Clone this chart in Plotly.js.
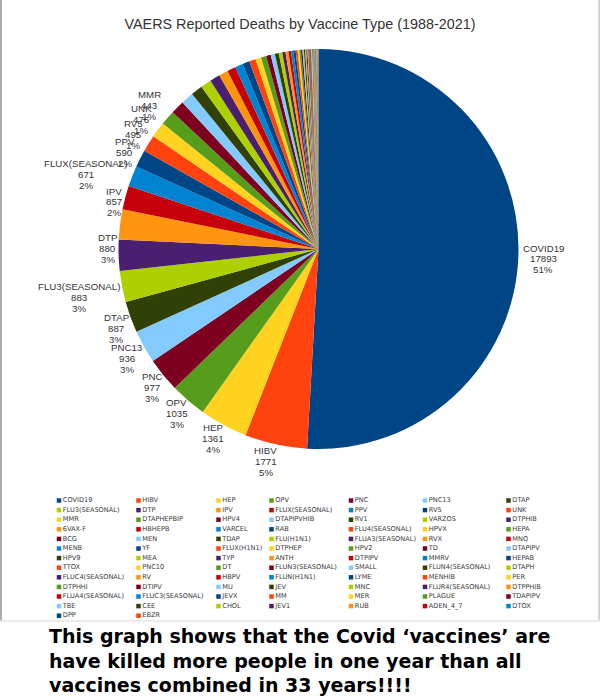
<!DOCTYPE html>
<html><head><meta charset="utf-8">
<script src="https://cdn.plot.ly/plotly-3.0.1.min.js"></script>
<style>html,body{margin:0;padding:0;background:#fff;} #chart{width:600px;height:696px;}</style>
</head><body><div id="chart"></div>
<script>
const vaccines = ['COVID19','HIBV','HEP','OPV','PNC','PNC13','DTAP',
 'FLU3(SEASONAL)','DTP','IPV','FLUX(SEASONAL)','PPV','RV5','UNK',
 'MMR','DTAPHEPBIP','HPV4','DTAPIPVHIB','RV1','VARZOS','DTPHIB',
 '6VAX-F','HBHEPB','VARCEL','RAB','FLU4(SEASONAL)','HPVX','HEPA',
 'BCG','MEN','TDAP','FLU(H1N1)','FLUA3(SEASONAL)','RVX','MNQ',
 'MENB','YF','FLUX(H1N1)','DTPHEP','HPV2','TD','DTAPIPV',
 'HPV9','MEA','TYP','ANTH','DTPIPV','MMRV','HEPAB',
 'TTOX','PNC10','DT','FLUN3(SEASONAL)','SMALL','FLUN4(SEASONAL)','DTAPH',
 'FLUC4(SEASONAL)','RV','HBPV','FLUN(H1N1)','LYME','MENHIB','PER',
 'DTPHHI','DTIPV','MU','JEV','MNC','FLUR4(SEASONAL)','DTPPHIB',
 'FLUA4(SEASONAL)','FLUC3(SEASONAL)','JEVX','MM','MER','PLAGUE','TDAPIPV',
 'TBE','CEE','CHOL','JEV1','RUB','ADEN_4_7','DTOX',
 'DPP','EBZR'];
const deaths = [17893,1771,1361,1035,977,936,887,
 883,880,857,671,590,495,476,
 443,420,388,356,330,305,290,
 262,240,225,200,185,160,150,
 130,120,110,100,90,82,75,
 68,62,56,50,45,42,39,
 36,33,30,27,25,23,21,
 19,17,15,14,13,12,11,
 10,9,8,8,7,7,6,
 6,5,5,5,4,4,4,
 3,3,3,3,2,2,2,
 2,1,1,1,1,1,1,
 1,1];
const labeledCount = 15;

const palette = ['#004586','#ff420e','#ffd320','#579d1c','#7e0021','#83caff',
                 '#314004','#aecf00','#4b1f6f','#ff950e','#c5000b','#0084d1'];
const sliceColors = vaccines.map((_, i) => palette[i % palette.length]);

// ---- page geometry (pixel space used by the overlay axes) ----
const W = 600, H = 696;
const pieCx = 318.5, pieCy = 249, pieR = 200, labelR = 204;

// legend grid
const legendCols = 7;
const legendColX = [59, 138.5, 218.5, 271.5, 351, 425, 508.5];
const legendRow0 = 500.5, legendRowStep = 9.6;
const legX = vaccines.map((_, i) => legendColX[i % legendCols]);
const legY = vaccines.map((_, i) => legendRow0 + Math.floor(i / legendCols) * legendRowStep);

// ---- slice labels placed outside the pie (computed from the data) ----
const labelFont = {family: 'Liberation Sans, Arial, sans-serif', size: 9.7, color: '#333'};
const labelLineStep = 10.8;
const measureCtx = document.createElement('canvas').getContext('2d');
measureCtx.font = '9.7px "Liberation Sans", Arial, sans-serif';
const total = deaths.reduce((a, b) => a + b, 0);
const labelAnns = [];
let cum = 0;
for (let i = 0; i < labeledCount; i++) {
  const frac = deaths[i] / total;
  const mid = (cum + frac / 2) * 360;
  cum += frac;
  const rad = mid * Math.PI / 180;
  const px = pieCx + labelR * Math.sin(rad);
  const py = pieCy - labelR * Math.cos(rad);
  const lines = [vaccines[i], String(deaths[i]), Math.round(frac * 100) + '%'];
  const w = Math.max(...lines.map(s => measureCtx.measureText(s).width));
  let bx, by;
  if (mid < 135)      { bx = px + w / 2;     by = py + 4;  }
  else if (mid < 200) { bx = px - 9;         by = py + 13; }
  else if (mid < 265) { bx = px + 2 - w / 2; by = py + 10; }
  else if (mid < 272) { bx = px + 3 - w / 2; by = py - 7;  }
  else                { bx = px + 6 - w / 2; by = py - 22; }
  lines.forEach((s, k) => labelAnns.push({
    xref: 'x', yref: 'y', x: bx, y: by + (k - 1) * labelLineStep,
    text: s, showarrow: false, xanchor: 'center', yanchor: 'middle',
    font: labelFont
  }));
}

const pie = {
  type: 'pie',
  labels: vaccines,
  values: deaths,
  sort: false,
  direction: 'clockwise',
  rotation: 0,
  marker: {colors: sliceColors, line: {width: 0}},
  textinfo: 'none',
  textposition: 'none',
  domain: {x: [(pieCx - pieR) / W, (pieCx + pieR) / W],
           y: [1 - (pieCy + pieR) / H, 1 - (pieCy - pieR) / H]},
  showlegend: false,
  hoverinfo: 'label+value+percent'
};

const legend = {
  type: 'scatter',
  mode: 'markers+text',
  x: legX,
  y: legY,
  text: vaccines,
  textposition: 'middle right',
  textfont: {family: 'DejaVu Sans, sans-serif', size: 6.6, color: '#3a3a3a'},
  marker: {symbol: 'square', size: 4.5, color: sliceColors, line: {width: 0}},
  cliponaxis: false,
  showlegend: false,
  hoverinfo: 'text',
  xaxis: 'x', yaxis: 'y'
};

const layout = {
  width: W, height: H,
  margin: {l: 0, r: 0, t: 0, b: 0},
  paper_bgcolor: '#ffffff',
  plot_bgcolor: 'rgba(0,0,0,0)',
  showlegend: false,
  title: {
    text: 'VAERS Reported Deaths by Vaccine Type (1988-2021)',
    font: {family: 'Liberation Sans, Arial, sans-serif', size: 14.4, color: '#333'},
    x: 0.5, xanchor: 'center', xref: 'paper',
    y: 1 - 24 / H, yanchor: 'middle', yref: 'paper'
  },
  xaxis: {domain: [0, 1], range: [0, W], visible: false, fixedrange: true},
  yaxis: {domain: [0, 1], range: [H, 0], visible: false, fixedrange: true},
  shapes: [
    {type: 'line', xref: 'paper', yref: 'paper', x0: 0.0015, x1: 0.0015, y0: 1, y1: 1 - 621 / H,
     line: {color: '#a8a8a8', width: 2}},
    {type: 'line', xref: 'paper', yref: 'paper', x0: 0.9985, x1: 0.9985, y0: 1, y1: 1 - 621 / H,
     line: {color: '#c8c8c8', width: 1.5}},
    {type: 'line', xref: 'paper', yref: 'paper', x0: 0, x1: 1, y0: 1 - 621 / H, y1: 1 - 621 / H,
     line: {color: '#e6e6e6', width: 1.5}}
  ],
  annotations: labelAnns.concat([{
    xref: 'paper', yref: 'paper', x: 47 / W, xanchor: 'left', y: 1 - 660 / H, yanchor: 'middle',
    align: 'left', showarrow: false,
    text: '<b>This graph shows that the Covid ‘vaccines’ are<br>have killed more people in one year than all<br>vaccines combined in 33 years!!!!</b>',
    font: {family: 'DejaVu Sans, Verdana, sans-serif', size: 19, color: '#000'}
  }])
};

Plotly.newPlot('chart', [pie, legend], layout, {displayModeBar: false, staticPlot: true});
</script>
</body></html>
